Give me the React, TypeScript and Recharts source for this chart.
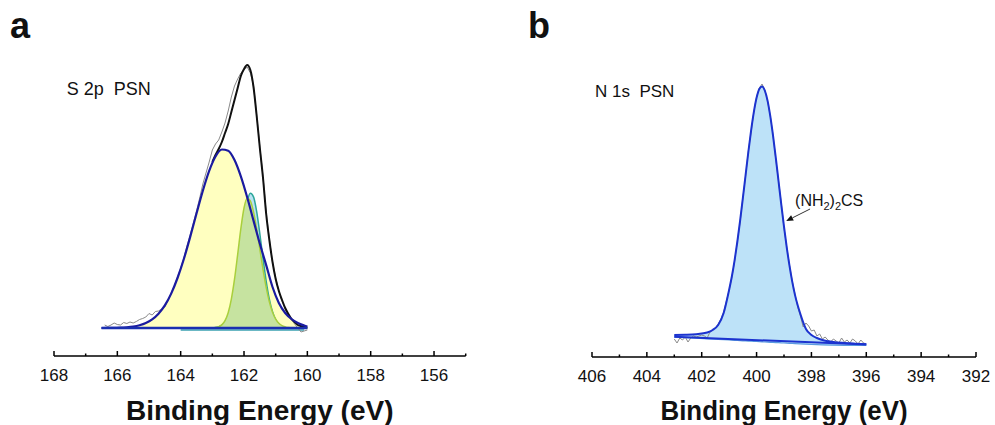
import React from "react";
import { ComposedChart, Line, Area, XAxis, YAxis, ReferenceLine } from "recharts";

const FONT = "'Liberation Sans', Arial, Helvetica, sans-serif";

// ---------- panel a: S 2p ----------
const s2pTicks = [168, 167, 166, 165, 164, 163, 162, 161, 160, 159, 158, 157, 156, 155];

// broad component (yellow)
const s2pBroadEnergy = [166.5, 166.3, 166.1, 165.9, 165.7, 165.5, 165.3, 165.1, 164.9, 164.7, 164.5, 164.3, 164.1, 163.9, 163.7, 163.5, 163.3, 163.1, 162.9, 162.7, 162.5, 162.3, 162.1, 161.9, 161.7, 161.5, 161.3, 161.1, 160.9, 160.7, 160.5, 160.3, 160.1, 160.0];
const s2pBroad = [0, 0.1, 0.2, 0.3, 0.7, 1.4, 2.7, 4.9, 8.6, 14.3, 22.6, 34.4, 50.0, 69.0, 91.1, 114.5, 137.3, 157.1, 171.5, 178.5, 177.2, 167.9, 151.6, 130.7, 107.4, 84.2, 62.9, 41, 25, 15, 9, 5, 2.5, 1.5];

// narrow components + envelope share one grid
const s2pFineEnergy = [163.0, 162.9, 162.8, 162.7, 162.6, 162.5, 162.4, 162.3, 162.2, 162.1, 162.0, 161.9, 161.8, 161.7, 161.6, 161.5, 161.4, 161.3, 161.2, 161.1, 161.0, 160.9, 160.8, 160.7, 160.6, 160.5, 160.4, 160.3, 160.2, 160.1, 160.0];
const s2pGreen = [0.1, 0.4, 1.2, 3.1, 7.3, 15.3, 28.9, 48.8, 73.6, 99.3, 120.0, 129.7, 127.2, 116.2, 99.1, 78.9, 58.6, 40.6, 26.2, 15.8, 8.9, 4.7, 2.3, 1.1, 0.4, 0.2, 0, 0, 0, 0, 0];
const s2pTeal = [0.1, 0.4, 1.1, 2.8, 6.2, 12.5, 23.2, 39.0, 60.1, 84.4, 108.1, 126.4, 134.7, 131.1, 116.4, 94.2, 69.6, 46.9, 28.8, 16.2, 8.3, 3.9, 1.6, 0.6, 0.2, 0, 0, 0, 0, 0, 0];
const s2pEnvelope = [166, 173, 179, 186, 195, 204, 216, 228, 240, 252, 259, 263, 258, 241, 212, 180, 150, 114, 88, 66, 49, 37, 28, 20, 14, 9, 6, 3, 2, 1, 0.5];

const s2pRawEnergy = [166.4, 166.3, 166.2, 166.1, 166.0, 165.9, 165.8, 165.7, 165.6, 165.5, 165.4, 165.3, 165.2, 165.1, 165.0, 164.9, 164.8, 164.7, 164.6, 164.5, 164.4, 164.3, 164.2, 164.1, 164.0, 163.9, 163.8, 163.7, 163.6, 163.5, 163.4, 163.3, 163.2, 163.1, 163.0, 162.9, 162.8, 162.7, 162.6, 162.5, 162.4, 162.3, 162.2, 162.1, 162.0, 161.9, 161.8, 161.7, 161.6, 161.5, 161.4, 161.3, 161.2, 161.1, 161.0, 160.9, 160.8, 160.7, 160.6, 160.5, 160.4, 160.3, 160.2, 160.1, 160.0];
const s2pRaw = [3, 1.5, 3, 5, 3.5, 3, 5.5, 4.5, 6, 5, 6.5, 8.5, 9.5, 11, 14.5, 13, 16.5, 17, 19, 21, 27, 35, 42, 51, 60, 70, 82, 93, 105, 117, 130, 144, 155, 166, 178, 184, 188, 196, 205, 217, 231, 242, 249, 255, 258, 261, 255, 242, 213, 181, 151, 116, 89, 66, 50, 37, 27, 19, 12, 8, 4, 0, -4, -3, -2];

const s2pBaseEnergy = [166.5, 160.0];
const s2pBase = [0, 0];
const s2pTealBaseEnergy = [164.0, 160.1];
const s2pTealBase = [-2, -2];

// ---------- panel b: N 1s ----------
const n1sTicks = [406, 405, 404, 403, 402, 401, 400, 399, 398, 397, 396, 395, 394, 393, 392];

const n1sEnergy = [403.0, 402.6, 402.2, 401.8, 401.6, 401.4, 401.2, 401.0, 400.9, 400.8, 400.7, 400.6, 400.5, 400.4, 400.3, 400.2, 400.1, 400.0, 399.9, 399.8, 399.7, 399.6, 399.5, 399.4, 399.3, 399.2, 399.1, 399.0, 398.9, 398.8, 398.7, 398.6, 398.4, 398.2, 398.0, 397.8, 397.6, 397.2, 396.8, 396.4, 396.0];
const n1sFit = [5.0, 5.2, 5.8, 7.5, 10, 15, 27, 50.2, 63.7, 79.9, 98.5, 119.4, 141.8, 165.0, 188.0, 209.4, 227.9, 242.2, 251.0, 253.6, 249.5, 239.4, 223.8, 204.3, 182.3, 159.0, 135.7, 113.3, 92.7, 74.3, 58.4, 45.1, 25.7, 11, 5, 2, 0, -2, -3, -3.7, -4.3];
const n1sLower = [2.8, 2.3, 1.8, 1.2, 0.9, 0.6, 0.3, 0, -0.2, -0.3, -0.5, -0.6, -0.8, -0.9, -1.1, -1.2, -1.4, -1.5, -1.7, -1.8, -2.0, -2.1, -2.3, -2.4, -2.6, -2.7, -2.9, -3.0, -3.2, -3.3, -3.5, -3.6, -3.9, -4.2, -4.5, -4.7, -4.9, -5.2, -5.4, -5.5, -5.5];

const n1sBgEnergy = [403.0, 396.0];
const n1sBg = [3.2, -4.5];

const n1sRawEnergy = [403.0, 402.9, 402.8, 402.7, 402.6, 402.5, 402.4, 402.3, 402.2, 402.1, 402.0, 401.9, 401.8, 401.7, 401.6, 401.5, 401.4, 401.3, 401.2, 401.1, 401.0, 400.9, 400.8, 400.7, 400.6, 400.5, 400.4, 400.3, 400.2, 400.1, 400.0, 399.9, 399.8, 399.7, 399.6, 399.5, 399.4, 399.3, 399.2, 399.1, 399.0, 398.9, 398.8, 398.7, 398.6, 398.5, 398.4, 398.3, 398.2, 398.1, 398.0, 397.9, 397.8, 397.7, 397.6, 397.5, 397.4, 397.3, 397.2, 397.1, 397.0, 396.9, 396.8, 396.7, 396.6, 396.5, 396.4, 396.3, 396.2, 396.1, 396.0];
const n1sRaw = [1, -3, 2, 0, 3, -2, 2, 4, 3, 4, 5, 4, 2, 8, 10, 12, 16, 21, 28, 39, 50, 63, 79, 99, 118, 142, 164, 189, 208, 228, 243, 252, 256, 250, 239, 224, 205, 181, 159, 137, 112, 93, 75, 59, 46, 33, 24, 13, 17, 14, 9, 10, 4, 6, 1, 3, 0, -2, 1, -1, -3, 2, -2, 0, -3, 1, -1, -4, 0, -3, -4];

// annotation arrow (tail -> head), in data units
const n1sArrow = [{ x: 398.05, y: 131 }, { x: 398.92, y: 119 }];

const zip = (xs: number[], ys: number[]) => xs.map((e, i) => ({ e, v: ys[i] }));

const broadData = zip(s2pBroadEnergy, s2pBroad);
const greenData = zip(s2pFineEnergy, s2pGreen);
const tealData = zip(s2pFineEnergy, s2pTeal);
const envelopeData = zip(s2pFineEnergy, s2pEnvelope);
const s2pRawData = zip(s2pRawEnergy, s2pRaw);
const s2pBaseData = zip(s2pBaseEnergy, s2pBase);
const s2pTealBaseData = zip(s2pTealBaseEnergy, s2pTealBase);

const n1sFitData = n1sEnergy.map((e, i) => ({ e, lo: n1sLower[i], hi: n1sFit[i] }));
const n1sLowerData = zip(n1sEnergy, n1sLower);
const n1sFitLine = zip(n1sEnergy, n1sFit);
const n1sBgData = zip(n1sBgEnergy, n1sBg);
const n1sRawData = zip(n1sRawEnergy, n1sRaw);

function EnergyTick(props: any) {
  const { x, y, payload } = props;
  const major = payload.value % 2 === 0;
  return (
    <g>
      <line x1={x} x2={x} y1={y} y2={y - (major ? 5 : 2.5)} stroke="#000" strokeWidth={1.5} />
      {major && (
        <text x={x} y={y + 25} textAnchor="middle" fontSize={17} fontFamily={FONT} fill="#111">
          {payload.value}
        </text>
      )}
    </g>
  );
}

function ArrowLabel(props: any) {
  const { x1, y1, x2, y2 } = props;
  const ang = Math.atan2(y2 - y1, x2 - x1);
  const len = 7;
  const w = 3;
  const bx = x2 - len * Math.cos(ang);
  const by = y2 - len * Math.sin(ang);
  const px = -Math.sin(ang) * w;
  const py = Math.cos(ang) * w;
  return (
    <g>
      <line x1={x1} y1={y1} x2={bx} y2={by} stroke="#333" strokeWidth={1} />
      <polygon points={`${x2},${y2} ${bx + px},${by + py} ${bx - px},${by - py}`} fill="#111" />
      <text x={x1 - 15} y={y1 - 2.6} fontSize={16} fontFamily={FONT} fill="#111">
        (NH<tspan fontSize={11} dy={4}>2</tspan>
        <tspan dy={-4}>)</tspan>
        <tspan fontSize={11} dy={4}>2</tspan>
        <tspan dy={-4}>CS</tspan>
      </text>
    </g>
  );
}

const axisProps = {
  type: "number" as const,
  dataKey: "e",
  reversed: true,
  allowDataOverflow: true,
  interval: 0 as const,
  tickSize: 0,
  tickMargin: 0,
  height: 60,
  tick: <EnergyTick />,
  axisLine: { stroke: "#000", strokeWidth: 1.5 },
};

function S2pPanel() {
  return (
    <ComposedChart width={480} height={425} margin={{ top: 40, right: 14.3, bottom: 9, left: 54 }}>
      <XAxis {...axisProps} domain={[155, 168]} ticks={s2pTicks} />
      <YAxis hide type="number" domain={[-28, 288]} allowDataOverflow />
      <Area data={broadData} dataKey="v" type="monotone" baseValue={0} fill="#ffffc0" fillOpacity={1} stroke="none" isAnimationActive={false} />
      <Area data={tealData} dataKey="v" type="monotone" baseValue={0} fill="#b9e2f3" fillOpacity={1} stroke="#2ea79a" strokeWidth={1.5} isAnimationActive={false} />
      <Area data={greenData} dataKey="v" type="monotone" baseValue={0} fill="#c6e3a0" fillOpacity={1} stroke="#a9cf3c" strokeWidth={1.5} isAnimationActive={false} />
      <Line data={s2pTealBaseData} dataKey="v" type="linear" stroke="#3aa0b0" strokeWidth={1.5} dot={false} activeDot={false} isAnimationActive={false} />
      <Line data={s2pRawData} dataKey="v" type="linear" stroke="#8a8a8a" strokeWidth={1} dot={false} activeDot={false} isAnimationActive={false} />
      <Line data={envelopeData} dataKey="v" type="monotone" stroke="#111" strokeWidth={2} dot={false} activeDot={false} isAnimationActive={false} />
      <Line data={broadData} dataKey="v" type="monotone" stroke="#1b1ba0" strokeWidth={2.2} dot={false} activeDot={false} isAnimationActive={false} />
      <Line data={s2pBaseData} dataKey="v" type="linear" stroke="#1a2fb0" strokeWidth={2.5} dot={false} activeDot={false} isAnimationActive={false} />
    </ComposedChart>
  );
}

function N1sPanel() {
  return (
    <ComposedChart width={495} height={425} margin={{ top: 40, right: 19, bottom: 8, left: 92 }}>
      <XAxis {...axisProps} domain={[392, 406]} ticks={n1sTicks} />
      <YAxis hide type="number" domain={[-17, 300]} allowDataOverflow />
      <Area data={n1sFitData} dataKey={(d: any) => [d.lo, d.hi]} type="monotone" fill="#bde2f8" fillOpacity={1} stroke="none" isAnimationActive={false} />
      <Line data={n1sLowerData} dataKey="v" type="linear" stroke="#5a9be0" strokeWidth={1.2} dot={false} activeDot={false} isAnimationActive={false} />
      <Line data={n1sRawData} dataKey="v" type="linear" stroke="#8a8a8a" strokeWidth={1} dot={false} activeDot={false} isAnimationActive={false} />
      <Line data={n1sFitLine} dataKey="v" type="monotone" stroke="#1c33cf" strokeWidth={2} dot={false} activeDot={false} isAnimationActive={false} />
      <Line data={n1sBgData} dataKey="v" type="linear" stroke="#1c33cf" strokeWidth={2} dot={false} activeDot={false} isAnimationActive={false} />
      <ReferenceLine segment={n1sArrow} ifOverflow="visible" shape={(p: any) => <ArrowLabel {...p} />} />
    </ComposedChart>
  );
}

export default function App() {
  return (
    <div style={{ position: "absolute", left: 0, top: 0, width: 995, height: 425, background: "#fff", overflow: "hidden" }}>
      <div style={{ position: "absolute", left: 0, top: 0 }}>
        <S2pPanel />
      </div>
      <div style={{ position: "absolute", left: 500, top: 0 }}>
        <N1sPanel />
      </div>
      <svg width={995} height={425} style={{ position: "absolute", left: 0, top: 0, pointerEvents: "none" }}>
        <g fontFamily={FONT} fill="#111">
          <text x={10} y={38} fontSize={36} fontWeight="bold">a</text>
          <text x={528} y={38} fontSize={36} fontWeight="bold">b</text>
          <text x={66.7} y={95} fontSize={18} style={{ whiteSpace: "pre" }}>S 2p  PSN</text>
          <text x={595} y={97.3} fontSize={17} style={{ whiteSpace: "pre" }}>N 1s  PSN</text>
          <text x={259.7} y={419.5} fontSize={28} fontWeight="bold" textAnchor="middle">Binding Energy (eV)</text>
          <text x={784} y={419.5} fontSize={28} fontWeight="bold" textAnchor="middle" textLength={247} lengthAdjust="spacingAndGlyphs">Binding Energy (eV)</text>
        </g>
      </svg>
    </div>
  );
}
